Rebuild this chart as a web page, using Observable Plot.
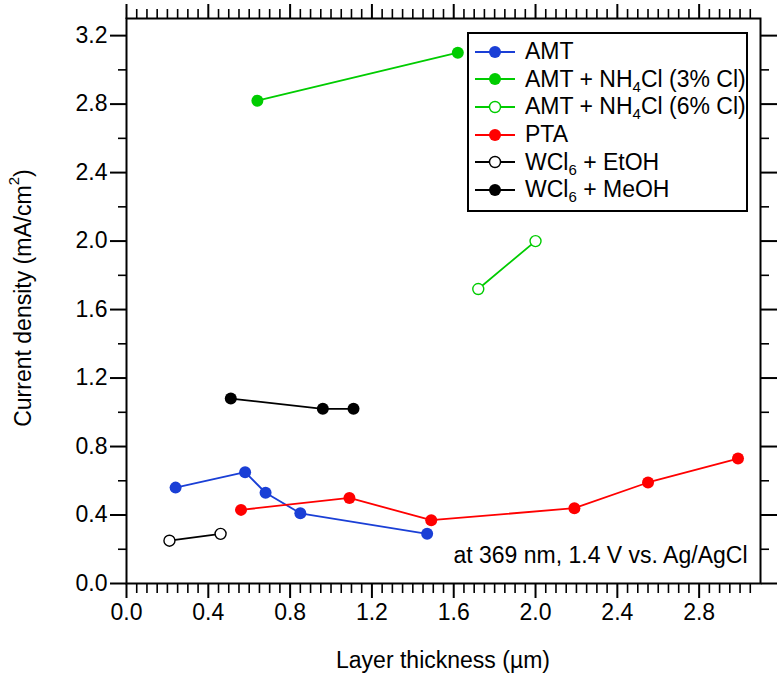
<!DOCTYPE html>
<html>
<head>
<meta charset="utf-8">
<script src="https://cdn.jsdelivr.net/npm/d3@7"></script>
<script src="https://cdn.jsdelivr.net/npm/@observablehq/plot@0.6"></script>
<style>
  body { margin: 0; background: #fff; }
  #chart { position: relative; width: 779px; height: 676px; font-family: "Liberation Sans", Arial, sans-serif; color: #000; }
  #chart svg { position: absolute; left: 0; top: 0; }
  .lbl { position: absolute; font-size: 23px; white-space: nowrap; line-height: 1; }
  .ylab { left: 23px; top: 298px; transform: translate(-50%, -50%) rotate(-90deg); }
  .xlab { left: 443px; top: 660px; transform: translate(-50%, -50%); }
  .lbl sup { font-size: 15px; vertical-align: 12px; line-height: 0; }
  .lbl sub, #legend sub { font-size: 15px; vertical-align: -5px; line-height: 0; }
  #legend { position: absolute; left: 467px; top: 32px; width: 277px; height: 172px; border: 2px solid #000; background: #fff; padding-top: 4px; box-sizing: content-box; }
  #legend .row { height: 27.6px; display: flex; align-items: center; font-size: 23px; white-space: nowrap; }
  #legend svg { position: static; margin-left: 6px; margin-right: 10px; flex: none; }
</style>
</head>
<body>
<div id="chart"></div>
<script>
// Series names, colours and measured points (layer thickness in µm, current density in mA/cm²)
const seriesNames = ["AMT", "AMT + NH4Cl (3% Cl)", "AMT + NH4Cl (6% Cl)", "PTA", "WCl6 + EtOH", "WCl6 + MeOH"];
const seriesLabels = ["AMT", "AMT + NH<sub>4</sub>Cl (3% Cl)", "AMT + NH<sub>4</sub>Cl (6% Cl)", "PTA", "WCl<sub>6</sub> + EtOH", "WCl<sub>6</sub> + MeOH"];
const seriesColors = ["#1a3fd6", "#00cc00", "#00cc00", "#ff0000", "#000000", "#000000"];
const seriesOpen = [false, false, true, false, true, false];

const amtX = [0.24, 0.58, 0.68, 0.85, 1.47];
const amtY = [0.56, 0.65, 0.53, 0.41, 0.29];
const nh4cl3X = [0.64, 1.62];
const nh4cl3Y = [2.82, 3.10];
const nh4cl6X = [1.72, 2.00];
const nh4cl6Y = [1.72, 2.00];
const ptaX = [0.56, 1.09, 1.49, 2.19, 2.55, 2.99];
const ptaY = [0.43, 0.50, 0.37, 0.44, 0.59, 0.73];
const etohX = [0.21, 0.46];
const etohY = [0.25, 0.29];
const meohX = [0.51, 0.96, 1.11];
const meohY = [1.08, 1.02, 1.02];

// Axis ticks
const xMajor = [0.0, 0.4, 0.8, 1.2, 1.6, 2.0, 2.4, 2.8];
const xMinor = d3.range(0, 62).map(i => i * 0.05).filter(v => Math.abs(v / 0.4 - Math.round(v / 0.4)) > 1e-6);
const yMajor = [0.0, 0.4, 0.8, 1.2, 1.6, 2.0, 2.4, 2.8, 3.2];
const yMinor = [0.2, 0.6, 1.0, 1.4, 1.8, 2.2, 2.6, 3.0];

const note = "at 369 nm, 1.4 V vs. Ag/AgCl";

const seriesXs = [amtX, nh4cl3X, nh4cl6X, ptaX, etohX, meohX];
const seriesYs = [amtY, nh4cl3Y, nh4cl6Y, ptaY, etohY, meohY];
const rows = [];
seriesNames.forEach((name, s) => {
  seriesXs[s].forEach((x, i) => rows.push({series: name, open: seriesOpen[s], x, y: seriesYs[s][i]}));
});

const fmt = d3.format(".1f");
const blank = () => "";

const plot = Plot.plot({
  width: 779,
  height: 676,
  marginLeft: 126,
  marginRight: 19,
  marginTop: 18,
  marginBottom: 93,
  style: {fontFamily: '"Liberation Sans", Arial, sans-serif', fontSize: "23px", color: "#000", background: "transparent"},
  x: {domain: [0, 3.1]},
  y: {domain: [0, 3.3]},
  color: {domain: seriesNames, range: seriesColors},
  marks: [
    Plot.axisX(xMajor, {anchor: "bottom", tickSize: 15, tickPadding: 5, tickFormat: fmt, fontSize: 23, strokeWidth: 2, label: null}),
    Plot.axisX(xMinor, {anchor: "bottom", tickSize: 10, tickFormat: blank, strokeWidth: 1.6, label: null}),
    Plot.axisX(xMajor, {anchor: "top", tickSize: 15, tickFormat: blank, strokeWidth: 2, label: null}),
    Plot.axisX(xMinor, {anchor: "top", tickSize: 10, tickFormat: blank, strokeWidth: 1.6, label: null}),
    Plot.axisY(yMajor, {anchor: "left", tickSize: 16, tickPadding: 3, tickFormat: fmt, fontSize: 23, strokeWidth: 2, label: null}),
    Plot.axisY(yMinor, {anchor: "left", tickSize: 8, tickFormat: blank, strokeWidth: 1.6, label: null}),
    Plot.axisY(yMajor, {anchor: "right", tickSize: 16, tickFormat: blank, strokeWidth: 2, label: null}),
    Plot.axisY(yMinor, {anchor: "right", tickSize: 8, tickFormat: blank, strokeWidth: 1.6, label: null}),
    Plot.frame({stroke: "#000", strokeWidth: 2}),
    Plot.line(rows, {x: "x", y: "y", z: "series", stroke: "series", strokeWidth: 1.8}),
    Plot.dot(rows.filter(d => !d.open), {x: "x", y: "y", fill: "series", r: 6}),
    Plot.dot(rows.filter(d => d.open), {x: "x", y: "y", stroke: "series", fill: "#fff", r: 5.5, strokeWidth: 1.4}),
    Plot.text([note], {frameAnchor: "bottom-right", dx: -13, dy: -28, lineAnchor: "middle", textAnchor: "end", fontSize: 23, fill: "#000"})
  ]
});

const chart = document.getElementById("chart");
chart.appendChild(plot);

// Axis titles
const ylab = document.createElement("div");
ylab.className = "lbl ylab";
ylab.innerHTML = "Current density (mA/cm<sup>2</sup>)";
chart.appendChild(ylab);

const xlab = document.createElement("div");
xlab.className = "lbl xlab";
xlab.textContent = "Layer thickness (µm)";
chart.appendChild(xlab);

// Legend box inside the plot area
const legend = document.createElement("div");
legend.id = "legend";
seriesNames.forEach((name, i) => {
  const row = document.createElement("div");
  row.className = "row";
  const c = seriesColors[i];
  const marker = seriesOpen[i]
    ? `<circle cx="20" cy="10" r="5.5" fill="#fff" stroke="${c}" stroke-width="1.4"/>`
    : `<circle cx="20" cy="10" r="6" fill="${c}"/>`;
  row.innerHTML = `<svg width="40" height="20"><line x1="0" x2="40" y1="10" y2="10" stroke="${c}" stroke-width="1.8"/>${marker}</svg><span>${seriesLabels[i]}</span>`;
  legend.appendChild(row);
});
chart.appendChild(legend);
</script>
</body>
</html>
